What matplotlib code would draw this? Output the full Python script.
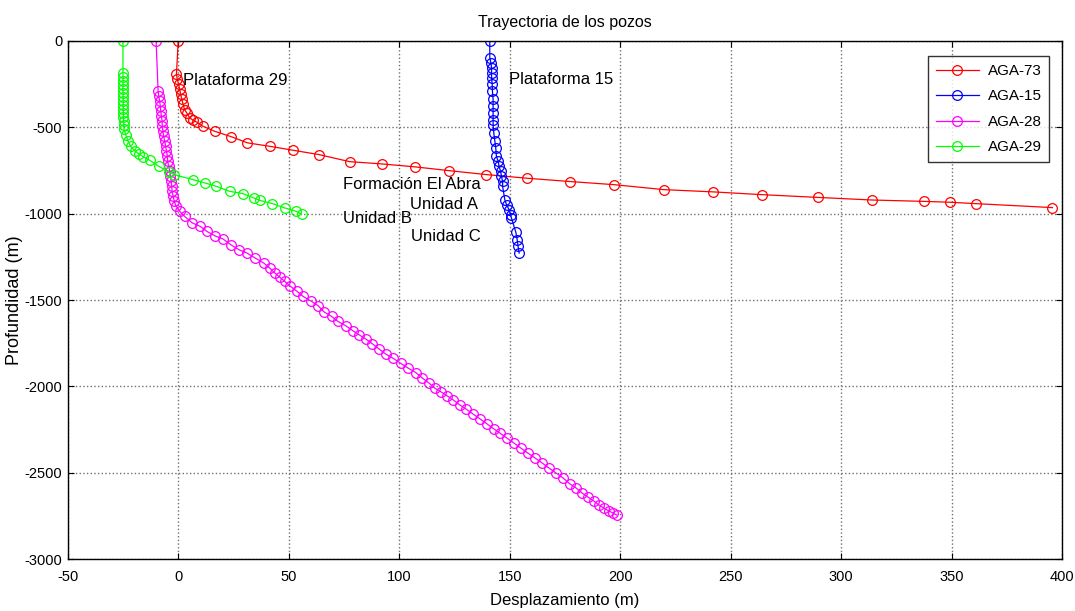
import matplotlib
matplotlib.use('Agg')
import matplotlib.pyplot as plt
import numpy as np

plt.rcParams['font.family'] = ['Liberation Sans', 'DejaVu Sans']
plt.rcParams['axes.unicode_minus'] = False

# well trajectories: horizontal displacement (m) and depth (m, positive down)
aga73_x = [0, -0.8, -0.4, 0.2, 0.7, 1.1, 1.7, 2.2, 2.9, 4.0, 5.2, 6.7, 8.5, 11.2, 16.5,
           24.1, 31.3, 41.4, 52.0, 63.7, 77.6, 92.0, 107.1, 122.6, 139.5, 157.9, 177.2,
           197.1, 219.8, 242.1, 264.1, 289.5, 313.8, 337.6, 349.2, 361.0, 395.6]
aga73_d = [0, 194, 223, 252, 281, 310, 339, 368, 397, 420, 445, 459, 471, 494, 523,
           555, 590, 610, 633, 658, 699, 712, 729, 751, 774, 795, 814,
           832, 861, 874, 890, 906, 921, 929, 934, 942, 965]

aga15_x = [141.0, 141.0, 141.5, 141.8, 141.8, 141.8, 142.1, 142.2, 142.5, 142.5, 142.5,
           142.5, 142.5, 142.8, 143.3, 143.7, 144.0, 144.8, 145.2, 145.9, 146.3, 146.8,
           146.8, 147.8, 148.6, 149.7, 150.4, 150.8, 152.8, 153.4, 153.8, 154.3]
aga15_d = [0, 97, 126, 155, 184, 213, 252, 291, 339, 378, 416,
           455, 484, 532, 581, 619, 668, 697, 726, 755, 784, 813,
           842, 919, 948, 977, 1006, 1025, 1108, 1151, 1190, 1228]

aga28_x = [-10.0, -9.1, -8.8, -8.4, -8.1, -7.9, -7.6, -7.3, -7.2, -6.9, -6.6, -6.1, -5.7,
           -5.3, -4.9, -4.8, -4.3, -3.8, -3.5, -3.2, -2.9, -2.8, -2.3, -1.8, -1.1,
           0.7, 2.9, 6.4, 10.0, 13.0, 16.5, 20.3, 23.8, 27.5, 31.1, 34.8, 38.7, 41.4,
           43.7, 45.9, 48.2, 50.8, 53.8, 56.5, 60.3, 63.3, 65.9, 69.4, 72.3, 75.8, 78.9,
           81.8, 84.9, 87.9, 90.9, 93.9, 97.2, 100.6, 104.0, 107.5, 110.5, 113.5, 116.1,
           118.7, 121.7, 124.4, 127.4, 130.1, 133.3, 136.5, 139.7, 142.8, 145.5, 148.7,
           151.9, 155.0, 158.2, 161.4, 164.6, 167.7, 170.9, 174.1, 177.3, 180.0, 182.7,
           185.4, 188.1, 190.4, 192.6, 194.9, 196.7, 198.5]
aga28_d = [0, 291, 320, 349, 378, 407, 436, 465, 494, 523, 552, 581, 610,
           639, 668, 697, 726, 755, 783, 812, 841, 870, 899, 928, 954,
           987, 1016, 1054, 1074, 1103, 1128, 1147, 1180, 1209, 1228, 1257, 1286, 1315,
           1344, 1367, 1392, 1421, 1450, 1479, 1508, 1533, 1568, 1595, 1624, 1649, 1677,
           1701, 1726, 1754, 1784, 1813, 1837, 1866, 1894, 1920, 1952, 1981, 2010,
           2030, 2055, 2078, 2107, 2130, 2159, 2188, 2217, 2246, 2270, 2299,
           2328, 2357, 2386, 2414, 2443, 2472, 2501, 2530, 2565, 2588, 2617,
           2641, 2664, 2687, 2704, 2722, 2733, 2745]

aga29_x = [-25.0, -25.0, -25.0, -25.0, -25.0, -25.0, -25.0, -24.9, -24.9, -24.9, -24.9,
           -24.8, -24.8, -24.7, -24.6, -24.5, -23.8, -22.7, -21.5, -19.7, -17.7, -15.9,
           -12.9, -8.8, -4.3, -1.9, 6.7, 12.0, 17.3, 23.3, 29.3, 34.2, 36.9, 42.6, 48.2,
           53.5, 55.8]
aga29_d = [0, 187, 208, 231, 254, 277, 300, 323, 347, 370, 393,
           416, 439, 463, 486, 509, 542, 581, 610, 635, 655, 670,
           691, 726, 758, 774, 803, 822, 842, 871, 884, 909, 923, 942, 967,
           987, 1003]

wells = ['AGA-73', 'AGA-15', 'AGA-28', 'AGA-29']
colors = ['#ff0000', '#0000ff', '#ff00ff', '#00ff00']
xs = [aga73_x, aga15_x, aga28_x, aga29_x]
ds = [aga73_d, aga15_d, aga28_d, aga29_d]

labels = ['Plataforma 29', 'Plataforma 15', 'Formación El Abra', 'Unidad A', 'Unidad B', 'Unidad C']
label_x = [2, 149.5, 74.5, 105, 74.5, 105.5]
label_y = [-230, -225, -830, -945, -1030, -1130]

fig = plt.figure(figsize=(10.75, 6.11), dpi=100)
ax = fig.add_axes([0.063, 0.085, 0.925, 0.848])

for name, c, x, d in zip(wells, colors, xs, ds):
    ax.plot(x, -np.array(d), '-o', color=c, lw=0.9, ms=7,
            mfc='none', mec=c, mew=0.9, label=name)

for t, tx, ty in zip(labels, label_x, label_y):
    ax.text(tx, ty, t, fontsize=12, va='center', ha='left')

ax.set_xlim(-50, 400)
ax.set_ylim(-3000, 0)
ax.set_xticks(np.arange(-50, 401, 50))
ax.set_yticks(np.arange(-3000, 1, 500))
ax.grid(True, color='#707070', linestyle=':', linewidth=1.0)
ax.tick_params(direction='in', top=True, right=True, length=4, labelsize=10.5)
ax.tick_params(axis='x', pad=8)
ax.tick_params(axis='y', pad=4)
for s in ax.spines.values():
    s.set_linewidth(1.0)

ax.set_title('Trayectoria de los pozos', fontsize=11.5, pad=10)
ax.set_xlabel('Desplazamiento (m)', fontsize=12, labelpad=6)
ax.set_ylabel('Profundidad (m)', fontsize=13, labelpad=1)

leg = ax.legend(loc='upper right', fontsize=11, frameon=True, fancybox=False,
                edgecolor='black', borderpad=0.5, handlelength=2.8, labelspacing=0.75,
                handletextpad=0.6, bbox_to_anchor=(0.995, 0.985))
leg.get_frame().set_linewidth(1.0)

fig.savefig('out.png', dpi=100)
